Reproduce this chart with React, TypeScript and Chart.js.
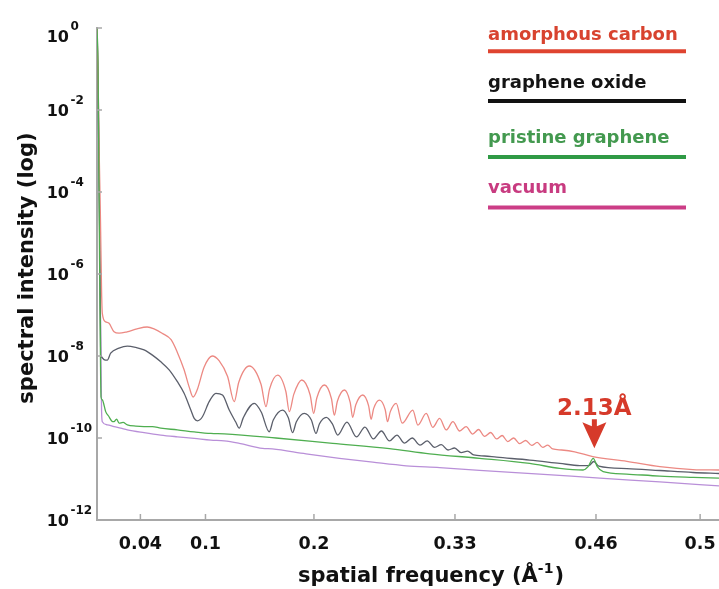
import React, { useEffect, useRef } from "react";
import { Chart, registerables } from "chart.js";

Chart.register(...registerables);

// ---------- data ----------
const seriesLabels = ["amorphous carbon", "graphene oxide", "pristine graphene", "vacuum"];

const xTickValues = [0.04, 0.1, 0.2, 0.33, 0.46, 0.556];
const xTickLabels = ["0.04", "0.1", "0.2", "0.33", "0.46", "0.5"];

const yTickValues = [1, 1e-2, 1e-4, 1e-6, 1e-8, 1e-10, 1e-12];
const yTickExponents = ["0", "-2", "-4", "-6", "-8", "-10", "-12"];

const annotationX = 0.4585;
const annotationY = 5.6e-11;
const annotationText = "2.13Å";

const amorphousCarbon: [number, number][] = [
  [0, 1], [0.0009, 9.5e-2], [0.0018, 1.9e-3], [0.0032, 2.1e-5], [0.0042, 4.1e-7],
  [0.0049, 1.1e-7], [0.008, 6.8e-8], [0.0111, 6.3e-8], [0.0157, 3.9e-8], [0.0203, 3.6e-8],
  [0.0277, 3.9e-8], [0.0369, 4.6e-8], [0.0462, 5.1e-8], [0.0526, 4.6e-8], [0.06, 3.6e-8],
  [0.0683, 2.5e-8], [0.0739, 1.26e-8], [0.0803, 4.6e-9], [0.085, 1.74e-9], [0.0886, 1.0e-9],
  [0.0923, 1.48e-9], [0.0988, 5.4e-9], [0.1062, 1.0e-8], [0.1127, 7.6e-9], [0.1204, 3.15e-9],
  [0.1265, 7.7e-10], [0.1307, 2.3e-9], [0.1404, 5.7e-9], [0.1512, 2.04e-9], [0.1558, 5.8e-10],
  [0.159, 1.54e-9], [0.1665, 3.4e-9], [0.1741, 1.36e-9], [0.1773, 4.4e-10], [0.1814, 1.16e-9],
  [0.1888, 2.6e-9], [0.1965, 1.12e-9], [0.1997, 4.0e-10], [0.2027, 9.6e-10], [0.2096, 1.96e-9],
  [0.2161, 9.2e-10], [0.2188, 3.6e-10], [0.2216, 7.9e-10], [0.2281, 1.48e-9], [0.2334, 7.4e-10],
  [0.2357, 3.2e-10], [0.2385, 6.4e-10], [0.245, 1.12e-9], [0.2504, 6.1e-10], [0.2527, 2.86e-10],
  [0.255, 5.2e-10], [0.2604, 8.4e-10], [0.2657, 4.9e-10], [0.2678, 2.5e-10], [0.2704, 4.4e-10],
  [0.2758, 7.0e-10], [0.2814, 2.3e-10], [0.2911, 4.8e-10], [0.2958, 2.07e-10], [0.3035, 4.0e-10],
  [0.3096, 1.82e-10], [0.3158, 3.0e-10], [0.322, 1.57e-10], [0.3281, 2.5e-10], [0.3343, 1.48e-10],
  [0.3403, 1.9e-10], [0.3463, 1.25e-10], [0.3518, 1.61e-10], [0.3573, 1.09e-10], [0.3629, 1.36e-10],
  [0.3684, 9.5e-11], [0.3735, 1.15e-10], [0.3786, 8.2e-11], [0.3841, 1.0e-10], [0.3897, 7.3e-11],
  [0.3952, 8.7e-11], [0.4007, 6.6e-11], [0.4058, 7.8e-11], [0.4109, 5.9e-11], [0.4155, 6.7e-11],
  [0.4201, 5.4e-11], [0.4284, 5.1e-11], [0.4404, 4.6e-11], [0.4571, 3.5e-11], [0.4885, 2.7e-11],
  [0.5189, 2.0e-11], [0.5494, 1.7e-11], [0.5734, 1.66e-11],
];

const grapheneOxide: [number, number][] = [
  [0, 1], [0.0009, 5.4e-2], [0.0018, 3.5e-4], [0.0028, 1.26e-6], [0.0034, 1.05e-8],
  [0.0095, 7.9e-9], [0.0126, 1.17e-8], [0.0203, 1.55e-8], [0.028, 1.74e-8], [0.0357, 1.62e-8],
  [0.0434, 1.41e-8], [0.0511, 1.05e-8], [0.0588, 7.2e-9], [0.0665, 4.6e-9], [0.0741, 2.36e-9],
  [0.0803, 1.23e-9], [0.0865, 4.8e-10], [0.0896, 3.0e-10], [0.0926, 2.63e-10], [0.0972, 3.3e-10],
  [0.1034, 7.7e-10], [0.1096, 1.23e-9], [0.1157, 1.12e-9], [0.1219, 4.8e-10], [0.1279, 2.45e-10],
  [0.1311, 1.74e-10], [0.1348, 3.1e-10], [0.145, 7.0e-10], [0.1514, 4.3e-10], [0.1588, 1.42e-10],
  [0.1625, 2.75e-10], [0.1711, 4.8e-10], [0.1764, 3.1e-10], [0.1803, 1.35e-10], [0.1837, 2.45e-10],
  [0.1911, 4.0e-10], [0.1976, 2.75e-10], [0.2019, 1.29e-10], [0.205, 2.2e-10], [0.2114, 3.2e-10],
  [0.217, 2.2e-10], [0.2219, 1.18e-10], [0.2304, 2.45e-10], [0.2392, 1.06e-10], [0.247, 1.85e-10],
  [0.2548, 9.5e-11], [0.2622, 1.48e-10], [0.2696, 8.5e-11], [0.2765, 1.18e-10], [0.2835, 7.5e-11],
  [0.2906, 1.0e-10], [0.2978, 6.7e-11], [0.3044, 8.5e-11], [0.3112, 5.9e-11], [0.3174, 6.9e-11],
  [0.3236, 5.1e-11], [0.3296, 5.7e-11], [0.3356, 4.4e-11], [0.3416, 4.8e-11], [0.3472, 3.85e-11],
  [0.3573, 3.64e-11], [0.3684, 3.4e-11], [0.3989, 2.9e-11], [0.4266, 2.4e-11], [0.4451, 2.13e-11],
  [0.4534, 2.13e-11], [0.458, 2.67e-11], [0.4626, 2.07e-11], [0.4885, 1.8e-11], [0.5189, 1.61e-11],
  [0.5494, 1.44e-11], [0.5734, 1.36e-11],
];

const pristineGraphene: [number, number][] = [
  [0, 1], [0.0009, 1.5e-1], [0.0014, 5.7e-3], [0.0023, 3.9e-6], [0.0032, 7.9e-9],
  [0.0037, 1.0e-9], [0.0049, 8.5e-10], [0.008, 4.4e-10], [0.0111, 3.3e-10], [0.0135, 2.6e-10],
  [0.0157, 2.5e-10], [0.018, 2.9e-10], [0.0203, 2.3e-10], [0.024, 2.4e-10], [0.028, 2.1e-10],
  [0.0357, 1.95e-10], [0.0434, 1.9e-10], [0.0511, 1.9e-10], [0.0588, 1.74e-10], [0.0741, 1.58e-10],
  [0.0896, 1.41e-10], [0.105, 1.29e-10], [0.1173, 1.26e-10], [0.165, 1.0e-10], [0.2173, 7.4e-11],
  [0.2696, 5.5e-11], [0.3066, 4.1e-11], [0.3527, 3.2e-11], [0.3989, 2.4e-11], [0.4266, 1.82e-11],
  [0.4481, 1.66e-11], [0.4527, 2.0e-11], [0.4575, 3.2e-11], [0.4612, 2.0e-11], [0.4666, 1.51e-11],
  [0.4882, 1.32e-11], [0.5189, 1.18e-11], [0.5497, 1.1e-11], [0.5734, 1.05e-11],
];

const vacuum: [number, number][] = [
  [0, 1], [0.0009, 1e-1], [0.0018, 2e-3], [0.0028, 1e-6], [0.0042, 4.8e-10],
  [0.0049, 2.5e-10], [0.0095, 2.1e-10], [0.0157, 1.9e-10], [0.0219, 1.74e-10], [0.028, 1.58e-10],
  [0.0434, 1.35e-10], [0.0588, 1.18e-10], [0.0741, 1.07e-10], [0.0896, 9.8e-11], [0.105, 8.9e-11],
  [0.1173, 8.5e-11], [0.1311, 7.4e-11], [0.1526, 5.6e-11], [0.1616, 5.4e-11], [0.1927, 4.1e-11],
  [0.2235, 3.2e-11], [0.2542, 2.57e-11], [0.285, 2.1e-11], [0.3158, 1.9e-11], [0.3527, 1.62e-11],
  [0.4081, 1.32e-11], [0.4635, 1.05e-11], [0.5189, 8.5e-12], [0.5734, 6.8e-12],
];

// ---------- styles ----------
const FONT = "'DejaVu Sans', 'Liberation Sans', sans-serif";
const curveColors = ["#ec8983", "#5b5f6b", "#4fae50", "#b98fd8"];
const legendTextColors = ["#d8432f", "#141414", "#43994f", "#c83b80"];
const legendLineColors = ["#df4430", "#111111", "#2f9a45", "#cc3d86"];
const legendTextY = [40, 88, 143, 193];
const legendLineY = [51.3, 101, 157, 207.5];
const axisColor = "#a8a8a8";
const annotColor = "#d63a2a";

const decorations = {
  id: "decorations",
  afterDraw(chart: any) {
    const { ctx, chartArea } = chart;
    const xs = chart.scales.x;
    const ys = chart.scales.y;
    ctx.save();

    // inner tick marks
    ctx.strokeStyle = axisColor;
    ctx.lineWidth = 1.5;
    yTickValues.forEach((v) => {
      const py = ys.getPixelForValue(v);
      ctx.beginPath();
      ctx.moveTo(chartArea.left, py);
      ctx.lineTo(chartArea.left + 5, py);
      ctx.stroke();
    });
    xTickValues.forEach((v) => {
      const px = xs.getPixelForValue(v);
      ctx.beginPath();
      ctx.moveTo(px, chartArea.bottom);
      ctx.lineTo(px, chartArea.bottom - 6);
      ctx.stroke();
    });

    // y tick labels 10^n
    ctx.fillStyle = "#111";
    yTickValues.forEach((v, i) => {
      const py = Math.max(ys.getPixelForValue(v), chartArea.top + 8);
      ctx.font = `bold 16px ${FONT}`;
      ctx.textAlign = "right";
      ctx.textBaseline = "alphabetic";
      ctx.fillText("10", 69, py + 6);
      ctx.font = `bold 12px ${FONT}`;
      ctx.textAlign = "left";
      ctx.fillText(yTickExponents[i], 70.5, py - 6.5);
    });

    // y title
    ctx.save();
    ctx.translate(33, 268);
    ctx.rotate(-Math.PI / 2);
    ctx.font = `bold 21px ${FONT}`;
    ctx.textAlign = "center";
    ctx.textBaseline = "alphabetic";
    ctx.fillText("spectral intensity (log)", 0, 0);
    ctx.restore();

    // x title with superscript
    const p1 = "spatial frequency (Å";
    const sup = "-1";
    const p2 = ")";
    ctx.font = `bold 21px ${FONT}`;
    const w1 = ctx.measureText(p1).width;
    const w3 = ctx.measureText(p2).width;
    ctx.font = `bold 14px ${FONT}`;
    const w2 = ctx.measureText(sup).width;
    const total = w1 + w2 + w3 + 1;
    let sx = 431 - total / 2;
    const base = 582;
    ctx.textAlign = "left";
    ctx.font = `bold 21px ${FONT}`;
    ctx.fillText(p1, sx, base);
    sx += w1;
    ctx.font = `bold 14px ${FONT}`;
    ctx.fillText(sup, sx, base - 9);
    sx += w2 + 1;
    ctx.font = `bold 21px ${FONT}`;
    ctx.fillText(p2, sx, base);

    // legend
    seriesLabels.forEach((label, i) => {
      ctx.font = `bold 18px ${FONT}`;
      ctx.fillStyle = legendTextColors[i];
      ctx.textAlign = "left";
      ctx.fillText(label, 488, legendTextY[i]);
      ctx.strokeStyle = legendLineColors[i];
      ctx.lineWidth = 4;
      ctx.beginPath();
      ctx.moveTo(488, legendLineY[i]);
      ctx.lineTo(686, legendLineY[i]);
      ctx.stroke();
    });

    // annotation arrow + label
    const ax = xs.getPixelForValue(annotationX);
    const tipY = ys.getPixelForValue(annotationY);
    ctx.fillStyle = annotColor;
    ctx.beginPath();
    ctx.moveTo(ax, tipY);
    ctx.lineTo(ax - 12, tipY - 26);
    ctx.lineTo(ax - 2.5, tipY - 22);
    ctx.lineTo(ax - 2.5, tipY - 29);
    ctx.lineTo(ax + 2.5, tipY - 29);
    ctx.lineTo(ax + 2.5, tipY - 22);
    ctx.lineTo(ax + 12, tipY - 26);
    ctx.closePath();
    ctx.fill();
    ctx.font = `bold 23px ${FONT}`;
    ctx.textAlign = "center";
    ctx.fillText(annotationText, ax, tipY - 33);

    ctx.restore();
  },
};

const toPoints = (arr: [number, number][]) => arr.map(([x, y]) => ({ x, y }));

export default function App() {
  const ref = useRef<HTMLCanvasElement>(null);

  useEffect(() => {
    document.body.style.margin = "0";
    const canvas = ref.current;
    if (!canvas) return;
    const series = [amorphousCarbon, grapheneOxide, pristineGraphene, vacuum];
    const orders = [1, 2, 0, 3];
    const chart = new Chart(canvas, {
      type: "line",
      data: {
        datasets: series.map((s, i) => ({
          label: seriesLabels[i],
          data: toPoints(s),
          borderColor: curveColors[i],
          backgroundColor: curveColors[i],
          borderWidth: 1.3,
          pointRadius: 0,
          fill: false,
          cubicInterpolationMode: "monotone" as const,
          order: orders[i],
        })),
      },
      options: {
        animation: false,
        responsive: false,
        maintainAspectRatio: false,
        events: [],
        layout: { padding: { top: 28, right: 0, left: 0, bottom: 0 } },
        plugins: {
          legend: { display: false },
          tooltip: { enabled: false },
          title: { display: false },
        },
        scales: {
          x: {
            type: "linear",
            min: 0,
            max: 0.5734,
            grid: { display: false, drawTicks: false },
            border: { display: true, color: axisColor, width: 2 },
            ticks: {
              autoSkip: false,
              maxRotation: 0,
              padding: 0,
              color: "#111",
              font: { family: FONT, size: 17.5, weight: "bold", lineHeight: 2.75 },
              callback: (_v: any, i: number) => xTickLabels[i],
            },
            afterBuildTicks: (scale: any) => {
              scale.ticks = xTickValues.map((v) => ({ value: v }));
            },
            afterFit: (scale: any) => {
              scale.height = 69;
            },
          },
          y: {
            type: "logarithmic",
            min: 1e-12,
            max: 1,
            grid: { display: false, drawTicks: false },
            border: { display: true, color: axisColor, width: 2 },
            ticks: { display: false },
            afterFit: (scale: any) => {
              scale.width = 97;
            },
          },
        },
      },
      plugins: [decorations],
    } as any);
    return () => chart.destroy();
  }, []);

  return (
    <div style={{ width: 719, height: 589, background: "#fff" }}>
      <canvas ref={ref} width={719} height={589} style={{ display: "block", width: 719, height: 589 }} />
    </div>
  );
}
